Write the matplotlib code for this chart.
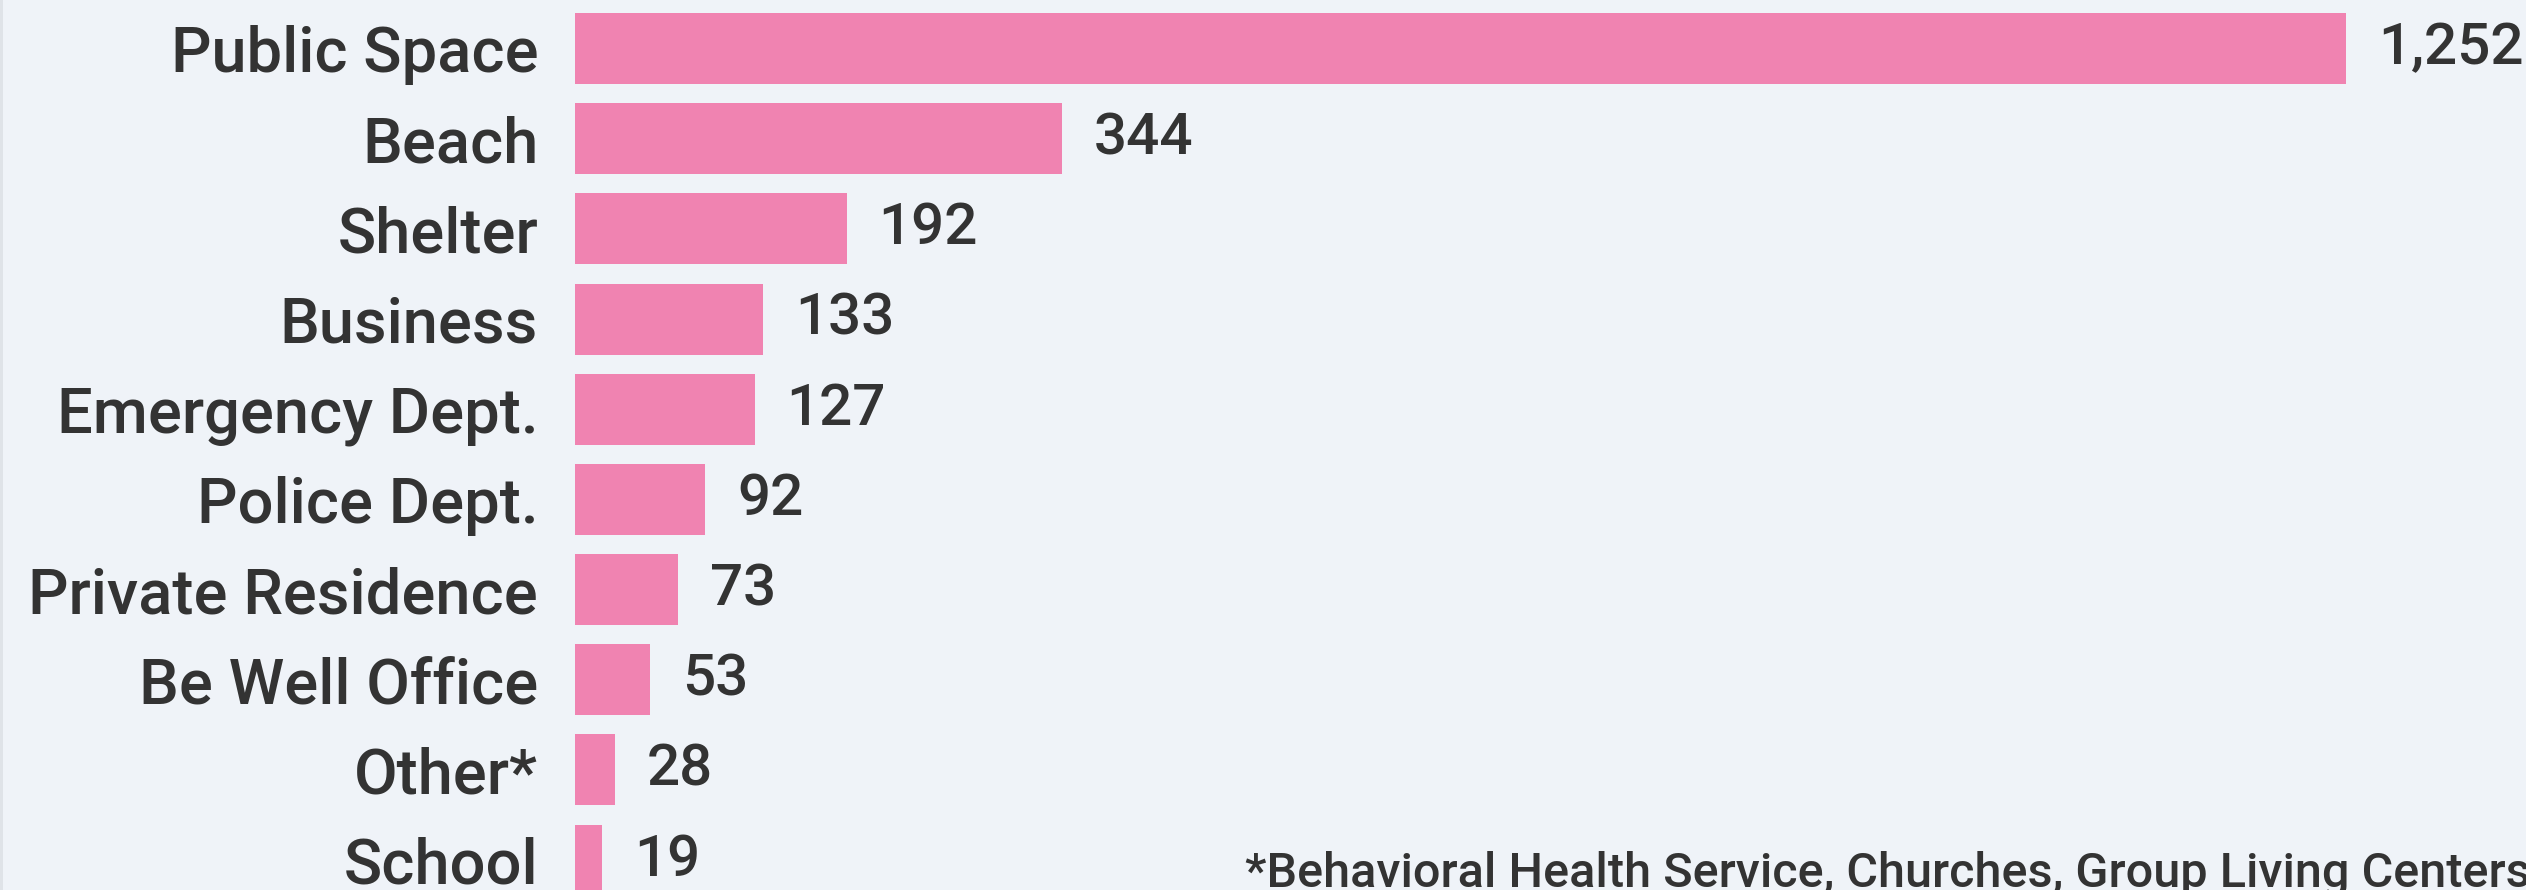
import matplotlib.pyplot as plt
from matplotlib.patches import Rectangle

# data
categories = ["Public Space", "Beach", "Shelter", "Business", "Emergency Dept.",
              "Police Dept.", "Private Residence", "Be Well Office", "Other*", "School"]
counts = [1252, 344, 192, 133, 127, 92, 73, 53, 28, 19]
footnote = "*Behavioral Health Service, Churches, Group Living Centers"

bg = "#eff3f8"
bar_color = "#f083b1"
text_color = "#333333"

plt.rcParams["font.family"] = ["Roboto", "DejaVu Sans"]

W, H = 2526, 890
fig = plt.figure(figsize=(W / 100, H / 100), dpi=100, facecolor=bg)

# thin grey edge of the card on the left
fig.patches.append(Rectangle((0, 0), 3 / W, 1, transform=fig.transFigure,
                             facecolor="#dfe3e8", edgecolor="none"))

left, right = 575 / W, 2346 / W
ax = fig.add_axes([left, 0, right - left, 1])
ax.set_facecolor("none")

pos = list(range(len(categories)))
bars = ax.barh(pos, counts, height=0.787, color=bar_color)
ax.set_xlim(0, max(counts))
ax.set_ylim(9.332, -0.538)

ax.set_yticks(pos)
ax.set_yticklabels(categories, fontsize=45.5, color=text_color, fontweight="medium")
ax.tick_params(axis="y", length=0, pad=26.5)
ax.set_xticks([])
for s in ax.spines.values():
    s.set_visible(False)

ax.bar_label(bars, labels=[f"{v:,}" for v in counts], padding=23,
             fontsize=42, color=text_color, fontweight="medium", clip_on=False)

fig.text(1245 / W, 3 / H, footnote, fontsize=35, color=text_color,
         fontweight="medium", ha="left", va="baseline")

fig.savefig("out.png", dpi=100, facecolor=bg)
